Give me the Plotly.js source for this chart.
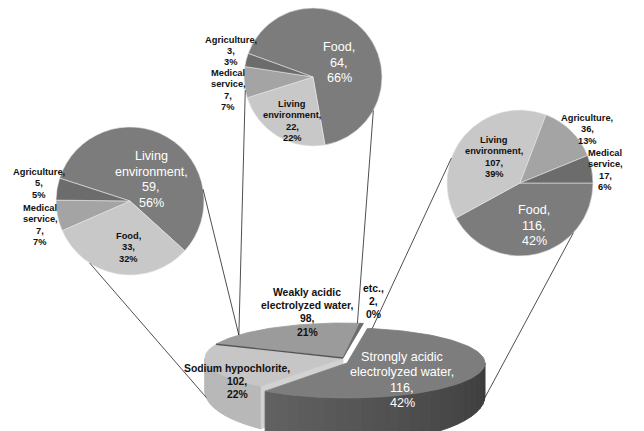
<!DOCTYPE html>
<html><head><meta charset="utf-8">
<script src="https://cdn.plot.ly/plotly-3.0.1.min.js"></script>
<style>html,body{margin:0;padding:0;background:#fff}#chart{width:644px;height:431px}</style>
</head><body><div id="chart"></div>
<script>
// ---------------- data ----------------
const mainCategories = ["Strongly acidic<br>electrolyzed water", "Sodium hypochlorite", "Weakly acidic<br>electrolyzed water", "etc."];
const mainLabelValues = [116, 102, 98, 2];
const mainLabelPercents = [42, 22, 21, 0];
const mainSliceValues = [276, 102, 98, 2];   // slice sizes as drawn in the picture

const leftCategories = ["Living<br>environment", "Food", "Medical<br>service", "Agriculture"];
const leftValues = [59, 33, 7, 5];
const leftPercents = [56, 32, 7, 5];

const topCategories = ["Food", "Living<br>environment", "Medical<br>service", "Agriculture"];
const topValues = [64, 22, 7, 3];
const topPercents = [66, 22, 7, 3];

const rightCategories = ["Food", "Living<br>environment", "Agriculture", "Medical<br>service"];
const rightValues = [116, 107, 36, 17];
const rightPercents = [42, 39, 13, 6];

// ---------------- layout / geometry ----------------
const W = 644, H = 431;
const FONT = "Liberation Sans, Arial, sans-serif";
const rad = d => d * Math.PI / 180;

const M = {cx: 343, cy: 358, a: 138, b: 35, d0: 33, d1: 12, start: 8.5};
const explodeOff = [[4, 5], [0, 0], [0, 0], [0, 0]];
const mainTopColors = ["#7d7d7d", "#c6c6c6", "#9b9b9b", "#6a6a6a"];
const mainSideColors = [["#626262", "#3a3a3a"], ["#b8b8b8", "#b8b8b8"], ["#8a8a8a", "#8a8a8a"], ["#555555", "#555555"]];

function topPt(th, off) { return [M.cx + off[0] + M.a * Math.sin(rad(th)), M.cy + off[1] - M.b * Math.cos(rad(th))]; }
function botPt(th, off) { const p = topPt(th, off); return [p[0], p[1] + M.d0 - M.d1 * Math.cos(rad(th))]; }
function arc(t0, t1, fn, off) { const n = Math.max(2, Math.ceil(Math.abs(t1 - t0) / 2)); const pts = []; for (let i = 0; i <= n; i++) pts.push(fn(t0 + (t1 - t0) * i / n, off)); return pts; }
function poly(pts, color, lw) {
  return {type: "scatter", mode: "lines", x: pts.map(p => p[0]).concat([pts[0][0]]), y: pts.map(p => p[1]).concat([pts[0][1]]),
    fill: "toself", fillcolor: color, line: {color: color, width: lw === undefined ? 0.8 : lw}, hoverinfo: "skip", showlegend: false};
}
function mix(c1, c2, t) {
  const h = c => [1, 3, 5].map(i => parseInt(c.substr(i, 2), 16));
  const a = h(c1), b = h(c2);
  return "rgb(" + a.map((v, i) => Math.round(v + (b[i] - v) * t)).join(",") + ")";
}

// slice angles
const total = mainSliceValues.reduce((s, v) => s + v, 0);
const angles = [];
{ let cur = M.start; mainSliceValues.forEach(v => { const span = v / total * 360; angles.push([cur, cur + span]); cur += span; }); }

const traces = [];
// draw order back to front: weakly, etc, sodium, strongly
[2, 3, 1, 0].forEach(i => {
  const [t0, t1] = angles[i];
  const off = explodeOff[i];
  const c = [M.cx + off[0], M.cy + off[1]];
  const cb = [c[0], c[1] + M.d0];
  const s0 = Math.max(t0, 90), s1 = Math.min(t1, 270);
  if (s1 > s0) {
    const n = 24;
    for (let k = 0; k < n; k++) {
      const a0 = s0 + (s1 - s0) * k / n, a1 = s0 + (s1 - s0) * (k + 1) / n;
      const pts = arc(a0, a1, topPt, off).concat(arc(a1, a0, botPt, off));
      traces.push(poly(pts, mix(mainSideColors[i][1], mainSideColors[i][0], (k + 0.5) / n), 1));
    }
  }
  if (i === 1) {
    traces.push(poly([c, topPt(t0, off), botPt(t0, off), cb], "#d2d2d2", 0.8));
  }
  traces.push(poly([c].concat(arc(t0, t1, topPt, off)), mainTopColors[i], 0.8));
});
{
  const b = angles[2][0];
  const p = topPt(b, [0, 0]);
  traces.push({type: "scatter", mode: "lines", x: [M.cx, p[0]], y: [M.cy, p[1]], line: {color: "#555", width: 1.4}, hoverinfo: "skip", showlegend: false});
}

// ---- sub pies ----
const subColors = ["#7c7c7c", "#c8c8c8", "#a4a4a4", "#6c6c6c"];
const subPies = [
  {cats: leftCategories, vals: leftValues, c: [130, 201], r: 74, rot: -72},
  {cats: topCategories, vals: topValues, c: [313, 77], r: 69, rot: -70},
  {cats: rightCategories, vals: rightValues, c: [520, 183], r: 73, rot: 90}
];
subPies.forEach(p => {
  traces.push({
    type: "pie", labels: p.cats.map(s => s.replace("<br>", " ")), values: p.vals, sort: false, direction: "clockwise",
    rotation: p.rot, textinfo: "none", hoverinfo: "label+value+percent",
    marker: {colors: subColors, line: {color: "#e6e6e6", width: 0.6}},
    domain: {x: [(p.c[0] - p.r) / W, (p.c[0] + p.r) / W], y: [1 - (p.c[1] + p.r) / H, 1 - (p.c[1] - p.r) / H]},
    showlegend: false
  });
});

// ---- labels (one annotation per text line) ----
function labelLines(cat, val, pct) { const parts = cat.split("<br>"); parts[parts.length - 1] += ","; return parts.concat([val + ",", pct + "%"]); }
const WHITE = {color: "#ffffff", size: 12.6, weight: 400, sp: 15.5};
const SMALL = {color: "#111111", size: 9.3, weight: 700, sp: 11.3};
const MAINB = {color: "#111111", size: 10.4, weight: 700, sp: 13.4};
const annotations = [];
function addLabel(lines, x, y0, st) {
  lines.forEach((t, i) => annotations.push({x: x, y: y0 + i * st.sp, xref: "x", yref: "y", text: t, showarrow: false,
    xanchor: "center", yanchor: "middle", borderpad: 0,
    font: {family: FONT, size: st.size, color: st.color, weight: st.weight}}));
}
const leftPos = [[151, 156, WHITE], [128, 236, SMALL], [40, 208, SMALL], [39, 172, SMALL]];
const topPos = [[339, 47, WHITE], [292, 104, SMALL], [228, 73, SMALL], [231, 39.5, SMALL]];
const rightPos = [[534, 210, WHITE], [494, 140, SMALL], [587, 118, SMALL], [605, 153, SMALL]];
const mainPos = [[402, 357, Object.assign({}, WHITE, {sp: 15.3})], [237, 368, MAINB], [307, 292, MAINB], [373, 288, MAINB]];
[[leftCategories, leftValues, leftPercents, leftPos], [topCategories, topValues, topPercents, topPos],
 [rightCategories, rightValues, rightPercents, rightPos], [mainCategories, mainLabelValues, mainLabelPercents, mainPos]]
 .forEach(([cats, vals, pcts, pos]) => cats.forEach((c, i) => addLabel(labelLines(c, vals[i], pcts[i]), pos[i][0], pos[i][1], pos[i][2])));

// ---- connector lines (sub pie edge -> main pie) ----
function subPt(p, ang) { return [p.c[0] + p.r * Math.sin(rad(ang)), p.c[1] - p.r * Math.cos(rad(ang))]; }
const connectors = [
  [subPt(subPies[0], 213), botPt(262, [0, 0])],
  [subPt(subPies[0], 81), topPt(311, [0, 0])],
  [subPt(subPies[1], 259), topPt(311, [0, 0])],
  [subPt(subPies[1], 119), topPt(6, [0, 0])],
  [subPt(subPies[2], 290), topPt(10.5, explodeOff[0])],
  [subPt(subPies[2], 133), botPt(92, explodeOff[0])]
];
const shapes = connectors.map(([a, b]) => ({type: "line", xref: "x", yref: "y", x0: a[0], y0: a[1], x1: b[0], y1: b[1],
  line: {color: "#222", width: 0.8}, layer: "above"}));

const layout = {
  width: W, height: H, margin: {l: 0, r: 0, t: 0, b: 0}, paper_bgcolor: "#fff", plot_bgcolor: "#fff",
  xaxis: {range: [0, W], visible: false, fixedrange: true},
  yaxis: {range: [H, 0], visible: false, fixedrange: true},
  showlegend: false, annotations: annotations, shapes: shapes
};
Plotly.newPlot("chart", traces, layout, {displayModeBar: false, staticPlot: true});
</script></body></html>
